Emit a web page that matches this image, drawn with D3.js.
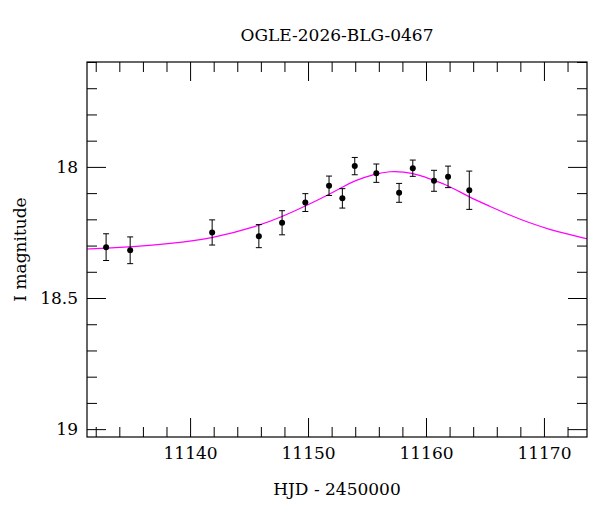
<!DOCTYPE html>
<html>
<head>
<meta charset="utf-8">
<script src="https://cdn.jsdelivr.net/npm/d3@7"></script>
<style>
  html, body { margin: 0; padding: 0; background: #fff; }
  svg { display: block; }
  text { font-family: "DejaVu Serif", "Liberation Serif", serif; fill: #000; }
</style>
</head>
<body>
<svg id="chart" width="600" height="512"></svg>
<script>
// ---- Data ----
const title = "OGLE-2026-BLG-0467";
const xLabel = "HJD - 2450000";
const yLabel = "I magnitude";

const hjd = [11132.88, 11134.92, 11141.87, 11145.83, 11147.80, 11149.77, 11151.78, 11152.91,
             11153.96, 11155.79, 11157.72, 11158.88, 11160.68, 11161.87, 11163.67];
const mag = [18.306, 18.318, 18.250, 18.264, 18.213, 18.136, 18.072, 18.120,
             17.997, 18.024, 18.099, 18.005, 18.053, 18.038, 18.089];
const magErr = [0.051, 0.051, 0.048, 0.044, 0.046, 0.034, 0.037, 0.037,
                0.033, 0.035, 0.036, 0.031, 0.040, 0.041, 0.073];

// model curve samples
const modelHjd = [11131.26, 11132.88, 11134.92, 11138.30, 11141.87, 11145.77, 11147.80, 11149.75,
                  11151.78, 11152.88, 11153.90, 11155.77, 11156.95, 11158.05, 11159.50, 11160.68,
                  11161.87, 11163.65, 11165.40, 11167.10, 11168.80, 11170.50, 11172.15, 11173.65];
const modelMag = [18.313, 18.310, 18.305, 18.293, 18.273, 18.226, 18.190, 18.150,
                  18.105, 18.078, 18.053, 18.025, 18.017, 18.018, 18.031, 18.052,
                  18.070, 18.115, 18.150, 18.184, 18.214, 18.239, 18.258, 18.274];

const xDomain = [11131.26, 11173.65];
const yDomain = [17.6, 19.03];
const xMajorTicks = [11140, 11150, 11160, 11170];
const xMinorStep = 2;
const yMajorTicks = [18, 18.5, 19];
const yMinorStep = 0.1;

// ---- Layout ----
const W = 600, H = 512;
const m = { left: 87, right: 13, top: 62, bottom: 75 };
const iw = W - m.left - m.right, ih = H - m.top - m.bottom;
const FONT = 17;

const svg = d3.select("#chart");
const g = svg.append("g").attr("transform", `translate(${m.left},${m.top})`);

const x = d3.scaleLinear().domain(xDomain).range([0, iw]);
const y = d3.scaleLinear().domain(yDomain).range([0, ih]);

const xMinor = d3.range(11132, 11174, xMinorStep).filter(v => !xMajorTicks.includes(v));
const yMinor = d3.range(176, 191, 1).map(v => +(v * yMinorStep).toFixed(1)).filter(v => !yMajorTicks.includes(v));

const MAJ = 19, MIN = 10;

function styleAxis(sel) {
  sel.select(".domain").remove();
  sel.selectAll(".tick line").attr("stroke", "#000").attr("stroke-width", 1);
}
function styleText(sel) {
  sel.selectAll(".tick text").attr("font-size", FONT)
    .style("font-family", '"DejaVu Serif", serif').attr("fill", "#000");
}

// bottom: major with labels
g.append("g").attr("transform", `translate(0,${ih})`)
  .call(d3.axisBottom(x).tickValues(xMajorTicks).tickSizeInner(-MAJ).tickSizeOuter(0)
        .tickPadding(10).tickFormat(d3.format("d")))
  .call(styleAxis).call(styleText);
g.append("g").attr("transform", `translate(0,${ih})`)
  .call(d3.axisBottom(x).tickValues(xMinor).tickSizeInner(-MIN).tickSizeOuter(0).tickFormat(""))
  .call(styleAxis);
// top
g.append("g")
  .call(d3.axisTop(x).tickValues(xMajorTicks).tickSizeInner(-MAJ).tickSizeOuter(0).tickFormat(""))
  .call(styleAxis);
g.append("g")
  .call(d3.axisTop(x).tickValues(xMinor).tickSizeInner(-MIN).tickSizeOuter(0).tickFormat(""))
  .call(styleAxis);
// left
g.append("g")
  .call(d3.axisLeft(y).tickValues(yMajorTicks).tickSizeInner(-MAJ).tickSizeOuter(0)
        .tickPadding(9).tickFormat(d => String(d)))
  .call(styleAxis).call(styleText);
g.append("g")
  .call(d3.axisLeft(y).tickValues(yMinor).tickSizeInner(-MIN).tickSizeOuter(0).tickFormat(""))
  .call(styleAxis);
// right
g.append("g").attr("transform", `translate(${iw},0)`)
  .call(d3.axisRight(y).tickValues(yMajorTicks).tickSizeInner(-MAJ).tickSizeOuter(0).tickFormat(""))
  .call(styleAxis);
g.append("g").attr("transform", `translate(${iw},0)`)
  .call(d3.axisRight(y).tickValues(yMinor).tickSizeInner(-MIN).tickSizeOuter(0).tickFormat(""))
  .call(styleAxis);

// clip
svg.append("defs").append("clipPath").attr("id", "clip")
  .append("rect").attr("width", iw).attr("height", ih);

// model curve
const model = modelHjd.map((t, i) => ({ t, m: modelMag[i] }));
g.append("path")
  .datum(model)
  .attr("clip-path", "url(#clip)")
  .attr("fill", "none")
  .attr("stroke", "#ff00ff")
  .attr("stroke-width", 1.2)
  .attr("d", d3.line().x(d => x(d.t)).y(d => y(d.m)).curve(d3.curveBasis));

// data with error bars
const pts = hjd.map((t, i) => ({ t, m: mag[i], e: magErr[i] }));
const eb = g.append("g").attr("stroke", "#000").attr("stroke-width", 1);
eb.selectAll("line.v").data(pts).join("line").attr("class", "v")
  .attr("x1", d => x(d.t)).attr("x2", d => x(d.t))
  .attr("y1", d => y(d.m - d.e)).attr("y2", d => y(d.m + d.e));
eb.selectAll("line.ct").data(pts).join("line").attr("class", "ct")
  .attr("x1", d => x(d.t) - 3).attr("x2", d => x(d.t) + 3)
  .attr("y1", d => y(d.m - d.e)).attr("y2", d => y(d.m - d.e));
eb.selectAll("line.cb").data(pts).join("line").attr("class", "cb")
  .attr("x1", d => x(d.t) - 3).attr("x2", d => x(d.t) + 3)
  .attr("y1", d => y(d.m + d.e)).attr("y2", d => y(d.m + d.e));
g.append("g").selectAll("circle").data(pts).join("circle")
  .attr("cx", d => x(d.t)).attr("cy", d => y(d.m)).attr("r", 3).attr("fill", "#000");

// frame
g.append("rect").attr("width", iw).attr("height", ih)
  .attr("fill", "none").attr("stroke", "#000").attr("stroke-width", 1.2);

// titles
svg.append("text").attr("x", m.left + iw / 2).attr("y", 41)
  .attr("text-anchor", "middle").attr("font-size", FONT).text(title);
svg.append("text").attr("x", m.left + iw / 2).attr("y", 495)
  .attr("text-anchor", "middle").attr("font-size", FONT).text(xLabel);
svg.append("text").attr("transform", `translate(26,${m.top + ih / 2}) rotate(-90)`)
  .attr("text-anchor", "middle").attr("font-size", FONT).text(yLabel);
</script>
</body>
</html>
